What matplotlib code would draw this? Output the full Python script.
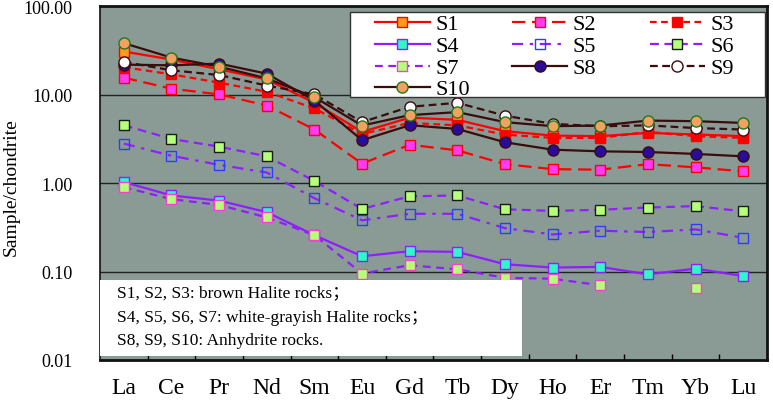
import numpy as np
import matplotlib
matplotlib.use("Agg")
import matplotlib.pyplot as plt
from matplotlib.ticker import FixedLocator, NullFormatter

elements = ["La", "Ce", "Pr", "Nd", "Sm", "Eu", "Gd", "Tb", "Dy", "Ho", "Er", "Tm", "Yb", "Lu"]
nan = np.nan
S1 = [30.8, 25.0, 19.4, 14.9, 8.1, 3.8, 5.5, 5.2, 3.87, 3.45, 3.4, 3.7, 3.55, 3.4]
S2 = [15.6, 11.7, 10.1, 7.55, 4.04, 1.66, 2.72, 2.35, 1.64, 1.44, 1.42, 1.64, 1.51, 1.36]
S3 = [20.5, 17.0, 13.7, 10.8, 7.0, 3.6, 4.8, 4.5, 3.54, 3.25, 3.25, 3.8, 3.4, 3.25]
S4 = [1.03, 0.725, 0.635, 0.47, 0.258, 0.149, 0.17, 0.167, 0.121, 0.111, 0.113, 0.093, 0.108, 0.089]
S5 = [2.80, 2.04, 1.61, 1.32, 0.676, 0.38, 0.45, 0.45, 0.31, 0.263, 0.29, 0.28, 0.30, 0.241]
S6 = [4.52, 3.16, 2.59, 2.01, 1.06, 0.51, 0.71, 0.725, 0.507, 0.485, 0.50, 0.53, 0.55, 0.48]
S7 = [0.90, 0.66, 0.567, 0.41, 0.258, 0.095, 0.118, 0.106, 0.085, 0.083, 0.070, nan, 0.066, nan]
S8 = [21.9, 21.5, 22.5, 17.3, 8.6, 3.06, 4.52, 4.1, 2.9, 2.39, 2.29, 2.25, 2.14, 2.01]
S9 = [23.5, 18.9, 16.7, 12.7, 10.1, 4.9, 7.3, 8.1, 5.8, 4.68, 4.4, 4.5, 4.2, 4.04]
S10 = [38.3, 26.3, 20.8, 15.3, 9.4, 4.48, 5.88, 6.36, 4.9, 4.41, 4.48, 5.1, 5.02, 4.8]
yticks = [0.01, 0.1, 1, 10, 100]
ytick_labels = ["0.01", "0.10", "1.00", "10.00", "100.00"]
note_lines = ["S1, S2, S3: brown Halite rocks；",
              "S4, S5, S6, S7: white-grayish Halite rocks；",
              "S8, S9, S10: Anhydrite rocks."]

plt.rcParams["font.family"] = "Liberation Serif"

W, H = 773, 406
fig = plt.figure(figsize=(W / 100, H / 100), dpi=100)
AX_L, AX_R, AX_T, AX_B = 100, 767, 7.3, 361
ax = fig.add_axes([AX_L / W, (H - AX_B) / H, (AX_R - AX_L) / W, (AX_B - AX_T) / H])
ax.set_facecolor("#8A9B96")


def axx(px):
    return (px - AX_L) / (AX_R - AX_L)


def axy(py):
    return 1 - (py - AX_T) / (AX_B - AX_T)


x = np.arange(len(elements))
red = "#FF0000"
vio = "#8F1FFF"
brown = "#3A0C0C"

styles = [
    ("S1", S1, dict(color=red, ls="-", marker="s", mfc="#FF9A1A", mec=red)),
    ("S2", S2, dict(color=red, ls=(0, (6, 3)), marker="s", mfc="#FF3BF5", mec=red)),
    ("S3", S3, dict(color=red, ls=(0, (3, 2)), marker="s", mfc=red, mec=red)),
    ("S4", S4, dict(color=vio, ls="-", marker="s", mfc="#33F5C8", mec=vio)),
    ("S5", S5, dict(color=vio, ls=(0, (5, 3, 1.5, 3)), marker="s", mfc="none", mec="#2F3BFF")),
    ("S6", S6, dict(color=vio, ls=(0, (4, 2.5)), marker="s", mfc="#B5FF7A", mec="#1A1A1A")),
    ("S7", S7, dict(color=vio, ls=(0, (3.5, 2.5)), marker="s", mfc="#B5FF7A", mec="#FF3BD8")),
    ("S8", S8, dict(color=brown, ls="-", marker="o", mfc="#2A0C9A", mec=brown)),
    ("S9", S9, dict(color=brown, ls=(0, (3.5, 2)), marker="o", mfc="white", mec=brown)),
    ("S10", S10, dict(color=brown, ls="-", marker="o", mfc="#F4A060", mec="#1E7A1E")),
]

for name, vals, st in styles:
    ms = 8 if st["marker"] == "o" else 7.5
    ax.plot(x, vals, lw=1.6, ms=ms, mew=1.0, label=name, zorder=3, **st)

ax.set_yscale("log")
ax.set_ylim(0.01, 100)
ax.set_xlim(-0.5, len(elements) - 0.5)
ax.yaxis.set_major_locator(FixedLocator(yticks))
ax.set_yticklabels(ytick_labels)
ax.yaxis.set_minor_locator(FixedLocator([]))
ax.yaxis.set_minor_formatter(NullFormatter())
ax.tick_params(axis="y", which="major", length=0, pad=20, labelsize=13)

ax.set_xticks(x)
ax.set_xticklabels(elements)
ax.set_xticks(np.arange(len(elements) - 1) + 0.5, minor=True)
ax.tick_params(axis="x", which="major", length=0, pad=12, labelsize=17)
ax.tick_params(axis="x", which="minor", direction="in", length=4, width=1, color="black")

for v in [0.1, 1, 10]:
    ax.axhline(v, color="#222222", lw=1.0, zorder=1)

for s in ax.spines.values():
    s.set_linewidth(2.0)
    s.set_color("#111111")
ax.spines["left"].set_linewidth(1.2)

ax.set_ylabel("Sample/chondrite", fontsize=14)
ax.yaxis.set_label_coords(axx(20), axy(187))

# legend (drawn manually, 3 equal-width columns)
ax.add_patch(plt.Rectangle((axx(350), axy(98.3)), axx(765) - axx(350), axy(13.3) - axy(98.3),
                           transform=ax.transAxes, facecolor="white", edgecolor="#333333",
                           lw=1.0, zorder=4.5))
col_x = [375, 512, 650]
row_y = [23.3, 45.0, 66.7, 88.3]
for i, (name, vals, st) in enumerate(styles):
    col, row = i % 3, i // 3
    x0 = col_x[col]
    x1 = x0 + 55
    yy = axy(row_y[row])
    ms = 8 if st["marker"] == "o" else 7.5
    line_st = {k: v for k, v in st.items() if k not in ("marker", "mfc", "mec")}
    ax.plot([axx(x0), axx(x1)], [yy, yy], transform=ax.transAxes, lw=1.6,
            clip_on=False, zorder=5, **line_st)
    ax.plot([axx((x0 + x1) / 2)], [yy], transform=ax.transAxes, ls="none",
            marker=st["marker"], mfc=st["mfc"], mec=st["mec"], ms=ms, mew=1.0,
            clip_on=False, zorder=5.1)
    ax.text(axx(x1 + 6), yy, name, transform=ax.transAxes, fontsize=16,
            va="center_baseline", ha="left", zorder=6)

# note box
ax.add_patch(plt.Rectangle((0, axy(356.7)), axx(522), axy(280.7) - axy(356.7),
                           transform=ax.transAxes, facecolor="white", edgecolor="none", zorder=4))
for t, py in zip(note_lines, [293.3, 318.0, 341.0]):
    ax.text(axx(116.7), axy(py), t, transform=ax.transAxes, fontsize=12.5,
            family=["Liberation Serif", "Noto Sans CJK SC"],
            va="center", ha="left", zorder=6)

fig.savefig("out.png", dpi=100)
